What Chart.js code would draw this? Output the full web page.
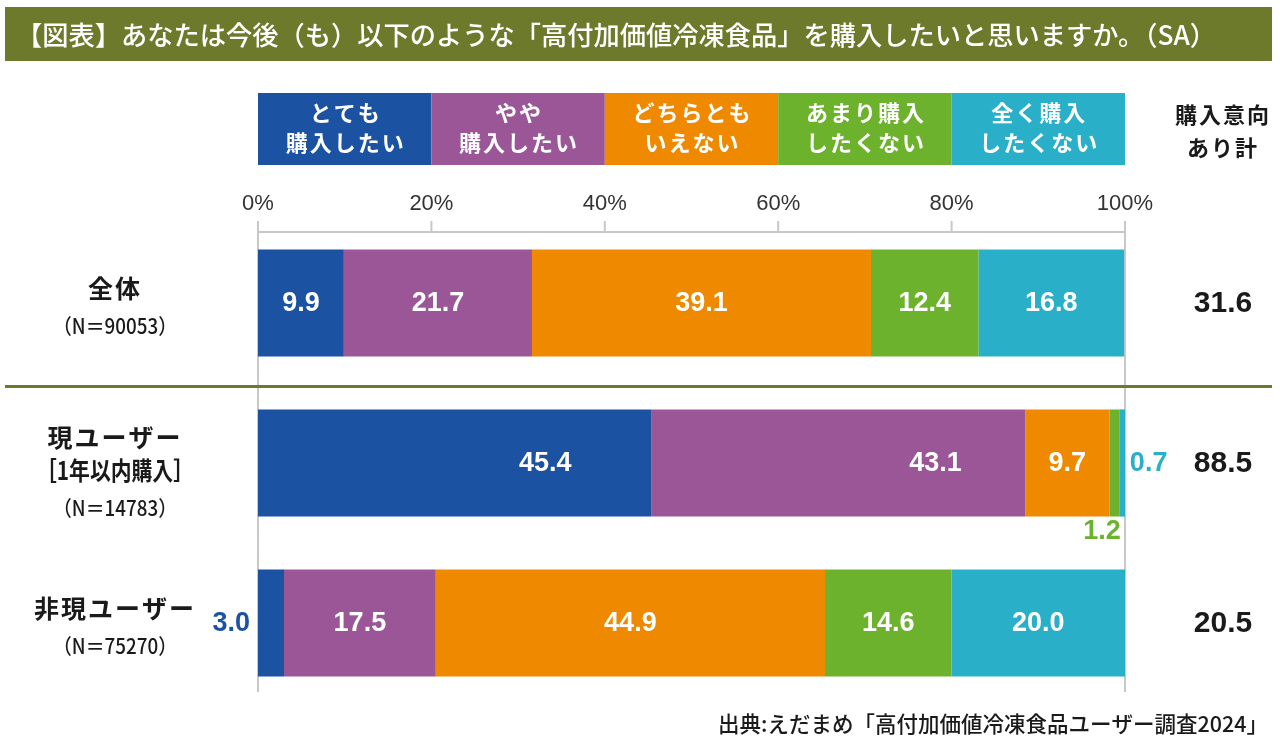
<!DOCTYPE html>
<html><head><meta charset="utf-8">
<script src="https://cdn.jsdelivr.net/npm/chart.js@4"></script>
<style>html,body{margin:0;padding:0;background:#fff;overflow:hidden}#wrap{width:1280px;height:751px}</style>
</head><body><div id="wrap"><canvas id="c" width="1280" height="751"></canvas></div>
<script>
// ---- data ----
const titleText = '【図表】あなたは今後（も）以下のような「高付加価値冷凍食品」を購入したいと思いますか。（SA）';
const sourceText = '出典:えだまめ「高付加価値冷凍食品ユーザー調査2024」';
const categories = ['全体', '現ユーザー', '非現ユーザー'];
const categoryExtraLines = [[], ['［1年以内購入］'], []];
const sampleSizes = ['（N＝90053）', '（N＝14783）', '（N＝75270）'];
const seriesNames = [['とても', '購入したい'], ['やや', '購入したい'], ['どちらとも', 'いえない'], ['あまり購入', 'したくない'], ['全く購入', 'したくない']];
const veryWant = [9.9, 45.4, 3.0];
const somewhatWant = [21.7, 43.1, 17.5];
const neutral = [39.1, 9.7, 44.9];
const notReally = [12.4, 1.2, 14.6];
const notAtAll = [16.8, 0.7, 20.0];
const intentTotal = [31.6, 88.5, 20.5];
const intentHeader = ['購入意向', 'あり計'];
const tickValues = [0, 20, 40, 60, 80, 100];

// ---- styles ----
const colors = ['#1b52a2', '#9b5698', '#ef8a00', '#6cb22c', '#2aafc9'];
const olive = '#6e7a2b';
const gridGray = '#c8c8c8';
const JP = '"Noto Sans CJK JP", "Noto Sans", sans-serif';
const NUM = '"Liberation Sans", Arial, sans-serif';
// special label placements  key: rowIndex-datasetIndex
const labelPlacement = { '1-4': 'right', '1-3': 'below', '2-0': 'left', '1-0': 0.73, '1-1': 0.76 };

const seriesValues = [veryWant, somewhatWant, neutral, notReally, notAtAll];

const decor = {
  id: 'decor',
  beforeDatasetsDraw(chart) {
    const ctx = chart.ctx, xs = chart.scales.x;
    ctx.save();
    // title bar
    ctx.fillStyle = olive;
    ctx.fillRect(5, 7, 1267, 54);
    ctx.fillStyle = '#fff';
    ctx.font = '500 26.5px ' + JP;
    ctx.textBaseline = 'middle';
    ctx.textAlign = 'left';
    ctx.fillText(titleText, 16, 35, 1200);

    // legend boxes
    seriesNames.forEach((lines, i) => {
      const x0 = xs.getPixelForValue(i * 20), x1 = xs.getPixelForValue((i + 1) * 20);
      ctx.fillStyle = colors[i];
      ctx.fillRect(x0, 93, x1 - x0, 72);
      ctx.fillStyle = '#fff';
      ctx.font = 'bold 22px ' + JP;
      ctx.textAlign = 'center';
      ctx.letterSpacing = '2px';
      ctx.fillText(lines[0], (x0 + x1) / 2 + 1, 113);
      ctx.fillText(lines[1], (x0 + x1) / 2 + 1, 143);
      ctx.letterSpacing = '0px';
    });
    // right header
    ctx.fillStyle = '#1a1a1a';
    ctx.font = 'bold 22px ' + JP;
    ctx.letterSpacing = '2px';
    ctx.fillText(intentHeader[0], 1223, 115);
    ctx.fillText(intentHeader[1], 1223, 148);
    ctx.letterSpacing = '0px';

    // ticks labels
    ctx.fillStyle = '#333';
    ctx.font = '22px ' + NUM;
    tickValues.forEach(v => {
      ctx.fillText(v + '%', xs.getPixelForValue(v), 204);
    });
    // axis line & ticks
    ctx.strokeStyle = gridGray;
    ctx.lineWidth = 2;
    ctx.beginPath();
    ctx.moveTo(xs.getPixelForValue(0), 232);
    ctx.lineTo(xs.getPixelForValue(100), 232);
    tickValues.forEach(v => {
      const x = xs.getPixelForValue(v);
      ctx.moveTo(x, 221);
      ctx.lineTo(x, 232);
    });
    [0, 100].forEach(v => {
      const x = xs.getPixelForValue(v);
      ctx.moveTo(x, 232);
      ctx.lineTo(x, 692);
    });
    ctx.stroke();
    ctx.restore();
  },
  afterDatasetsDraw(chart) {
    const ctx = chart.ctx, ys = chart.scales.y;
    ctx.save();
    // separator
    ctx.strokeStyle = olive;
    ctx.lineWidth = 3;
    ctx.beginPath();
    ctx.moveTo(5, 386.5);
    ctx.lineTo(1272, 386.5);
    ctx.stroke();

    ctx.textBaseline = 'middle';
    // category labels
    const labelX = 115;
    categories.forEach((name, i) => {
      const cy = ys.getPixelForValue(i);
      const lines = [name].concat(categoryExtraLines[i]);
      let y = cy - 15 - (lines.length - 1) * 11;
      ctx.fillStyle = '#1a1a1a';
      ctx.textAlign = 'center';
      lines.forEach((ln, k) => {
        ctx.font = 'bold 25px ' + JP;
        ctx.letterSpacing = k === 0 ? '2px' : '0px';
        ctx.fillText(ln, labelX, y, k === 0 ? 400 : 158);
        ctx.letterSpacing = '0px';
        y += 33;
      });
      y += 5;
      ctx.font = '500 21px ' + JP;
      ctx.fillText(sampleSizes[i], labelX, y, 124);
      // intent total
      ctx.font = 'bold 30px ' + NUM;
      ctx.fillText(intentTotal[i].toFixed(1), 1223, cy + 1);
    });

    // bar value labels
    chart.data.datasets.forEach((ds, di) => {
      const meta = chart.getDatasetMeta(di);
      meta.data.forEach((el, idx) => {
        const v = ds.data[idx];
        const txt = v.toFixed(1);
        const place = labelPlacement[idx + '-' + di];
        const left = Math.min(el.base, el.x), right = Math.max(el.base, el.x);
        ctx.font = 'bold 27px ' + NUM;
        if (place === 'right') {
          ctx.fillStyle = colors[di]; ctx.textAlign = 'left';
          ctx.fillText(txt, right + 4, el.y + 1);
        } else if (place === 'below') {
          ctx.fillStyle = colors[di]; ctx.textAlign = 'right';
          ctx.fillText(txt, right + 1, el.y + el.height / 2 + 15);
        } else if (place === 'left') {
          ctx.fillStyle = colors[di]; ctx.textAlign = 'right';
          ctx.fillText(txt, left - 8, el.y + 1);
        } else {
          const f = typeof place === 'number' ? place : 0.5;
          ctx.fillStyle = '#fff'; ctx.textAlign = 'center';
          ctx.fillText(txt, left + (right - left) * f, el.y + 1);
        }
      });
    });

    // source
    ctx.fillStyle = '#1a1a1a';
    ctx.textAlign = 'right';
    ctx.font = '500 21.5px ' + JP;
    ctx.fillText(sourceText, 1268, 724, 558);
    ctx.restore();
  }
};

new Chart(document.getElementById('c'), {
  type: 'bar',
  data: {
    labels: categories,
    datasets: seriesValues.map((vals, i) => ({
      label: seriesNames[i].join(''),
      data: vals,
      backgroundColor: colors[i],
      borderWidth: 0,
      barPercentage: 0.67,
      categoryPercentage: 1.0
    }))
  },
  options: {
    indexAxis: 'y',
    responsive: false,
    animation: false,
    devicePixelRatio: 1,
    layout: { padding: { left: 258, right: 155, top: 223, bottom: 48 } },
    scales: {
      x: { stacked: true, min: 0, max: 100, display: false },
      y: { stacked: true, display: false }
    },
    plugins: { legend: { display: false }, tooltip: { enabled: false } }
  },
  plugins: [decor]
});
</script>
</body></html>
